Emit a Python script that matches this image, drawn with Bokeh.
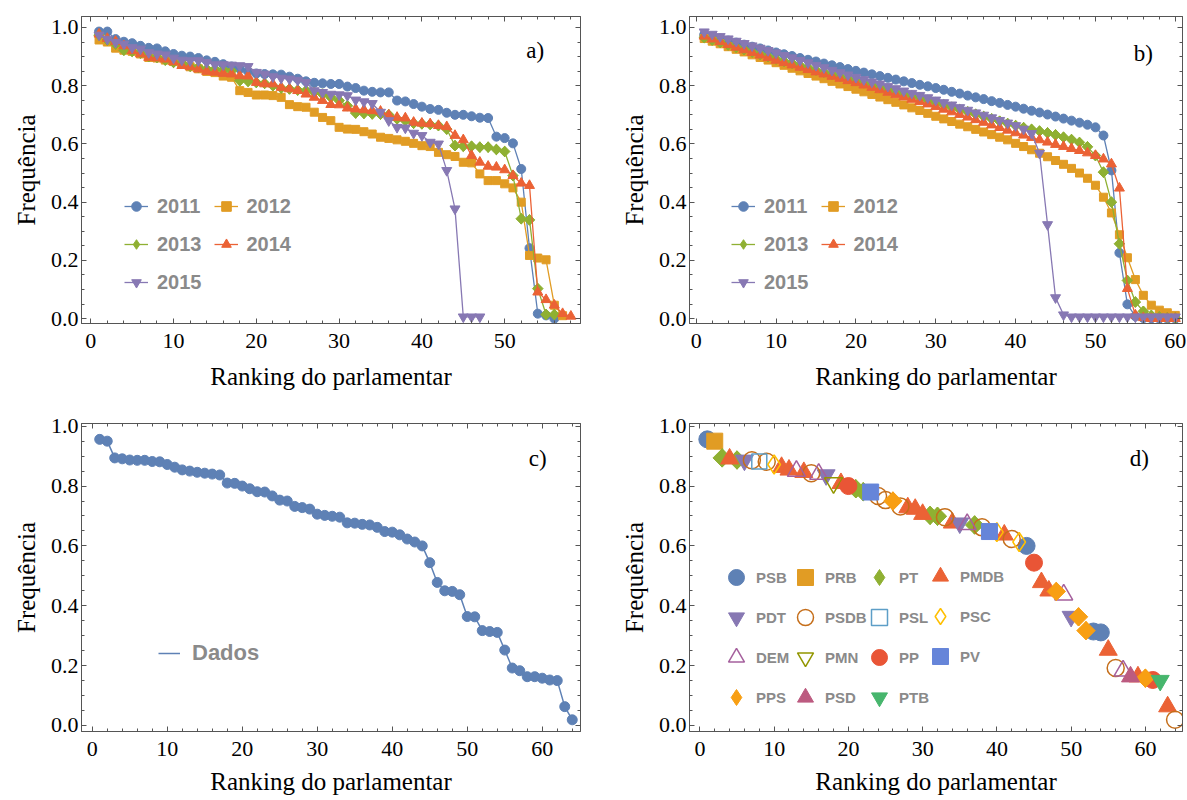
import math
from bokeh.plotting import figure
from bokeh.models import (Range1d, LinearAxis, SingleIntervalTicker, NumeralTickFormatter,
                          CustomJSTickFormatter, Legend, LegendItem, Label)
from bokeh.layouts import column, row
from bokeh.embed import file_html
from bokeh.resources import INLINE

# ---------------- data ----------------
YEARS = ["2011", "2012", "2013", "2014", "2015"]

# panel a) - yearly frequencies by ranking
a_2011 = [0.986, 0.986, 0.960, 0.951, 0.946, 0.937, 0.930, 0.928, 0.918, 0.909,
          0.903, 0.900, 0.895, 0.887, 0.882, 0.874, 0.866, 0.858, 0.849, 0.842,
          0.840, 0.839, 0.838, 0.831, 0.824, 0.815, 0.810, 0.808, 0.806, 0.806,
          0.797, 0.792, 0.783, 0.779, 0.777, 0.777, 0.749, 0.746, 0.737, 0.728,
          0.720, 0.717, 0.707, 0.700, 0.700, 0.695, 0.690, 0.689, 0.625, 0.620,
          0.602, 0.514, 0.242, 0.017, 0.011, 0.000]
a_2012 = [0.957, 0.950, 0.929, 0.922, 0.918, 0.909, 0.897, 0.895, 0.888, 0.883,
          0.874, 0.865, 0.858, 0.849, 0.845, 0.833, 0.829, 0.783, 0.777, 0.768,
          0.768, 0.766, 0.760, 0.735, 0.728, 0.726, 0.709, 0.691, 0.680, 0.657,
          0.651, 0.650, 0.642, 0.634, 0.623, 0.619, 0.614, 0.609, 0.602, 0.594,
          0.591, 0.571, 0.563, 0.557, 0.537, 0.535, 0.497, 0.474, 0.474, 0.463,
          0.449, 0.400, 0.217, 0.208, 0.202, 0.046, 0.010]
a_2013 = [0.974, 0.957, 0.943, 0.922, 0.918, 0.912, 0.900, 0.897, 0.888, 0.880,
          0.877, 0.867, 0.863, 0.857, 0.857, 0.855, 0.851, 0.817, 0.815, 0.811,
          0.808, 0.800, 0.792, 0.789, 0.785, 0.783, 0.777, 0.771, 0.760, 0.749,
          0.731, 0.706, 0.705, 0.703, 0.702, 0.700, 0.686, 0.680, 0.671, 0.669,
          0.667, 0.663, 0.651, 0.594, 0.592, 0.592, 0.589, 0.589, 0.581, 0.574,
          0.491, 0.343, 0.339, 0.103, 0.014, 0.014]
a_2014 = [0.977, 0.962, 0.952, 0.937, 0.920, 0.909, 0.897, 0.895, 0.891, 0.882,
          0.869, 0.865, 0.857, 0.849, 0.846, 0.842, 0.840, 0.834, 0.833, 0.811,
          0.806, 0.806, 0.794, 0.789, 0.783, 0.771, 0.760, 0.749, 0.735, 0.734,
          0.723, 0.720, 0.717, 0.714, 0.712, 0.699, 0.691, 0.689, 0.674, 0.671,
          0.669, 0.663, 0.659, 0.629, 0.614, 0.560, 0.537, 0.523, 0.520, 0.511,
          0.491, 0.465, 0.457, 0.091, 0.065, 0.046, 0.017, 0.008]
a_2015 = [0.974, 0.960, 0.949, 0.943, 0.931, 0.926, 0.914, 0.909, 0.906, 0.895,
          0.888, 0.886, 0.886, 0.880, 0.872, 0.872, 0.871, 0.869, 0.866, 0.846,
          0.840, 0.831, 0.826, 0.823, 0.819, 0.811, 0.783, 0.777, 0.771, 0.769,
          0.766, 0.751, 0.745, 0.739, 0.709, 0.680, 0.657, 0.655, 0.637, 0.629,
          0.606, 0.600, 0.509, 0.377, 0.006, 0.006, 0.006]

# panel b) - smoothed yearly frequencies
b_2011 = [0.975, 0.968, 0.962, 0.955, 0.948, 0.941, 0.934, 0.928, 0.921, 0.914,
          0.908, 0.902, 0.895, 0.889, 0.883, 0.876, 0.870, 0.864, 0.857, 0.851,
          0.845, 0.839, 0.833, 0.827, 0.821, 0.815, 0.809, 0.803, 0.798, 0.792,
          0.786, 0.779, 0.773, 0.766, 0.760, 0.754, 0.747, 0.741, 0.734, 0.728,
          0.721, 0.714, 0.708, 0.701, 0.694, 0.687, 0.680, 0.673, 0.666, 0.657,
          0.629, 0.509, 0.226, 0.049, 0.008, 0.002, 0.001, 0.000, 0.000, 0.000]
b_2012 = [0.962, 0.953, 0.944, 0.934, 0.925, 0.916, 0.906, 0.897, 0.888, 0.879,
          0.870, 0.860, 0.851, 0.842, 0.833, 0.824, 0.815, 0.806, 0.797, 0.788,
          0.779, 0.770, 0.761, 0.752, 0.743, 0.734, 0.724, 0.715, 0.705, 0.695,
          0.686, 0.677, 0.668, 0.659, 0.650, 0.641, 0.632, 0.623, 0.614, 0.602,
          0.591, 0.580, 0.568, 0.556, 0.543, 0.530, 0.516, 0.500, 0.482, 0.458,
          0.417, 0.363, 0.288, 0.209, 0.134, 0.080, 0.046, 0.029, 0.020, 0.011]
b_2013 = [0.965, 0.957, 0.949, 0.940, 0.932, 0.924, 0.916, 0.908, 0.900, 0.892,
          0.884, 0.877, 0.869, 0.862, 0.854, 0.847, 0.839, 0.832, 0.825, 0.818,
          0.810, 0.803, 0.795, 0.788, 0.780, 0.773, 0.765, 0.758, 0.750, 0.742,
          0.734, 0.726, 0.718, 0.710, 0.702, 0.694, 0.686, 0.678, 0.670, 0.663,
          0.656, 0.650, 0.644, 0.638, 0.631, 0.623, 0.615, 0.605, 0.590, 0.560,
          0.503, 0.400, 0.257, 0.131, 0.057, 0.025, 0.011, 0.006, 0.003, 0.002]
b_2014 = [0.970, 0.960, 0.951, 0.941, 0.932, 0.923, 0.914, 0.905, 0.896, 0.887,
          0.879, 0.871, 0.863, 0.855, 0.847, 0.840, 0.832, 0.825, 0.817, 0.810,
          0.802, 0.794, 0.786, 0.777, 0.769, 0.761, 0.753, 0.745, 0.737, 0.728,
          0.719, 0.710, 0.701, 0.692, 0.683, 0.674, 0.665, 0.656, 0.647, 0.638,
          0.630, 0.622, 0.614, 0.606, 0.598, 0.591, 0.584, 0.577, 0.569, 0.560,
          0.548, 0.531, 0.448, 0.103, 0.012, 0.003, 0.000, 0.000, 0.000, 0.000]
b_2015 = [0.985, 0.977, 0.969, 0.961, 0.953, 0.945, 0.937, 0.929, 0.921, 0.913,
          0.904, 0.896, 0.887, 0.879, 0.870, 0.862, 0.853, 0.845, 0.837, 0.829,
          0.821, 0.813, 0.806, 0.798, 0.790, 0.782, 0.774, 0.767, 0.759, 0.751,
          0.742, 0.734, 0.725, 0.716, 0.707, 0.699, 0.690, 0.681, 0.672, 0.663,
          0.651, 0.636, 0.568, 0.323, 0.072, 0.013, 0.006, 0.006, 0.006, 0.006,
          0.006, 0.006, 0.006, 0.006, 0.006, 0.006, 0.006, 0.006, 0.006, 0.006]

# panel c) - all years ("Dados")
c_freq = [0.956, 0.950, 0.894, 0.891, 0.887, 0.886, 0.886, 0.882, 0.881, 0.872,
          0.863, 0.854, 0.850, 0.846, 0.843, 0.840, 0.837, 0.810, 0.809, 0.800,
          0.791, 0.781, 0.780, 0.767, 0.753, 0.750, 0.732, 0.728, 0.723, 0.706,
          0.702, 0.699, 0.696, 0.677, 0.676, 0.672, 0.670, 0.662, 0.648, 0.646,
          0.637, 0.623, 0.613, 0.600, 0.544, 0.478, 0.450, 0.448, 0.437, 0.364,
          0.363, 0.317, 0.314, 0.311, 0.252, 0.192, 0.183, 0.163, 0.163, 0.158,
          0.152, 0.150, 0.063, 0.019]

# panel d) - party of each ranked deputy (same frequencies as c)
PARTIES = ["PSB", "PRB", "PT", "PMDB", "PDT", "PSDB", "PSL", "PSC",
           "DEM", "PMN", "PP", "PV", "PPS", "PSD", "PTB"]
d_party = ["PSB", "PRB", "PT", "PMDB", "PT", "PDT", "PSDB", "PSL", "PSDB", "PSC",
           "PMDB", "PMDB", "DEM", "PMDB", "PSDB", "DEM", "PDT", "PMN", "PMDB", "PP",
           "PT", "PT", "PV", "PSDB", "PSDB", "PPS", "PSDB", "PMDB", "PMDB", "PMDB",
           "PT", "PT", "PSDB", "PMDB", "PDT", "DEM", "PT", "PSDB", "PV", "PSC",
           "PMDB", "PSDB", "PSC", "PSB", "PP", "PMDB", "PMDB", "PPS", "DEM", "PDT",
           "PPS", "PPS", "PSB", "PSB", "PMDB", "PSDB", "DEM", "PSD", "PMDB", "PPS",
           "PP", "PTB", "PMDB", "PSDB"]

# ---------------- styles ----------------
SERIF = "Liberation Serif"
LEG_FONT = "Liberation Sans"
LEG_COLOR = "#8a8a8a"
FRAME = "#555555"
Q = math.pi / 4

YEAR_STYLE = {
    "2011": dict(color="#5E81B5", marker="circle", size=9),
    "2012": dict(color="#E19C24", marker="square", size=8),
    "2013": dict(color="#8FB032", marker="diamond", size=7.5),
    "2014": dict(color="#EB6235", marker="triangle", size=10),
    "2015": dict(color="#8778B3", marker="inverted_triangle", size=10),
}

PARTY_STYLE = {
    "PSB": dict(color="#5E81B5", marker="circle", size=17, filled=True),
    "PRB": dict(color="#E19C24", marker="square", size=16, filled=True),
    "PT": dict(color="#8FB032", marker="diamond", size=13, filled=True),
    "PMDB": dict(color="#EB6235", marker="triangle", size=18, filled=True),
    "PDT": dict(color="#8778B3", marker="inverted_triangle", size=18, filled=True),
    "PSDB": dict(color="#C56E1A", marker="circle", size=17, filled=False),
    "PSL": dict(color="#5D9EC7", marker="square", size=15, filled=False),
    "PSC": dict(color="#FFBF00", marker="hollow_diamond", size=19, filled=False),
    "DEM": dict(color="#A5609D", marker="triangle", size=18, filled=False),
    "PMN": dict(color="#929600", marker="inverted_triangle", size=18, filled=False),
    "PP": dict(color="#E95536", marker="circle", size=17, filled=True),
    "PV": dict(color="#6685D9", marker="square", size=16, filled=True),
    "PPS": dict(color="#F89F13", marker="diamond", size=13, filled=True),
    "PSD": dict(color="#BC5B80", marker="triangle", size=18, filled=True),
    "PTB": dict(color="#47B66D", marker="inverted_triangle", size=18, filled=True),
}

TOP_Y = (-0.0168, 1.0377)
BOT_Y = (-0.0201, 1.0090)


def base_fig(xr, yr, bl, fw, br, bt, fh, bb, label_standoff):
    p = figure(x_range=Range1d(*xr), y_range=Range1d(*yr),
               frame_width=fw, frame_height=fh,
               min_border_left=bl, min_border_right=br,
               min_border_top=bt, min_border_bottom=bb,
               output_backend="svg", toolbar_location=None)
    p.grid.visible = False
    p.outline_line_color = FRAME
    p.background_fill_color = "white"
    p.border_fill_color = "white"
    xt = SingleIntervalTicker(interval=10, num_minor_ticks=5)
    yt = SingleIntervalTicker(interval=0.2, num_minor_ticks=4)
    xb = p.below[0]
    yl = p.left[0]
    xb.ticker = xt
    yl.ticker = yt
    yl.formatter = NumeralTickFormatter(format="0.0")
    blank = CustomJSTickFormatter(code="return ''")
    xa = LinearAxis(ticker=xt, formatter=blank)
    yr_ax = LinearAxis(ticker=yt, formatter=blank)
    p.add_layout(xa, "above")
    p.add_layout(yr_ax, "right")
    for ax in (xb, yl, xa, yr_ax):
        ax.axis_line_color = FRAME
        ax.major_tick_line_color = FRAME
        ax.minor_tick_line_color = FRAME
        ax.major_tick_in = 5
        ax.major_tick_out = 0
        ax.minor_tick_in = 3
        ax.minor_tick_out = 0
        ax.major_label_text_font = SERIF
        ax.major_label_text_font_size = "22px"
        ax.major_label_text_color = "black"
    xa.major_label_standoff = 0
    yr_ax.major_label_standoff = 0
    xb.major_label_standoff = 10
    yl.major_label_standoff = 3
    yl.axis_label = "Frequência"
    yl.axis_label_standoff = 8
    xb.axis_label = "Ranking do parlamentar"
    xb.axis_label_standoff = label_standoff
    for ax in (xb, yl):
        ax.axis_label_text_font = SERIF
        ax.axis_label_text_font_size = "25px"
        ax.axis_label_text_font_style = "normal"
        ax.axis_label_text_color = "black"
    return p


def panel_label(p, x, y, text):
    p.add_layout(Label(x=x, y=y, text=text, text_font=SERIF, text_font_size="23px",
                       text_color="black", text_align="left", text_baseline="alphabetic"))


def year_panel(p, series, loc):
    items = []
    for name, vals in zip(YEARS, series):
        st = YEAR_STYLE[name]
        xs = list(range(1, len(vals) + 1))
        lr = p.line(xs, vals, line_color=st["color"], line_width=1.3)
        if st["marker"] == "diamond":
            # diamond (for the legend) hidden under a rotated square (drawn shape)
            sr = p.scatter(xs, vals, marker="diamond", size=st["size"] * 1.41,
                           fill_color=st["color"], line_color=st["color"])
            p.scatter(xs, vals, marker="square", size=st["size"], angle=Q,
                      fill_color=st["color"], line_color=st["color"])
        else:
            sr = p.scatter(xs, vals, marker=st["marker"], size=st["size"],
                           fill_color=st["color"], line_color=st["color"])
        items.append(LegendItem(label=name, renderers=[lr, sr]))
    leg = Legend(items=items, location=loc, orientation="horizontal", ncols=2,
                 glyph_width=24, glyph_height=26, label_height=26, label_standoff=9,
                 spacing=12, padding=0, margin=0, border_line_color=None,
                 background_fill_alpha=0, label_text_font=LEG_FONT,
                 label_text_font_style="bold", label_text_color=LEG_COLOR,
                 label_text_font_size="20px")
    p.add_layout(leg)


# ---------------- panel a ----------------
pa = base_fig((-1.12, 59.16), TOP_Y, 81, 499, 10, 16, 307, 90, 12)
year_panel(pa, [a_2011, a_2012, a_2013, a_2014, a_2015], (43, 28))
panel_label(pa, 52.6, 0.920, "a)")

# ---------------- panel b ----------------
pb = base_fig((-0.84, 60.9), TOP_Y, 99, 493, 5, 16, 307, 90, 12)
year_panel(pb, [b_2011, b_2012, b_2013, b_2014, b_2015], (42, 28))
panel_label(pb, 54.8, 0.909, "b)")

# ---------------- panel c ----------------
pc = base_fig((-1.43, 65.1), BOT_Y, 81, 499, 10, 10, 308, 69, 9)
c_x = list(range(1, len(c_freq) + 1))
cl = pc.line(c_x, c_freq, line_color="#5E81B5", line_width=1.5)
pc.scatter(c_x, c_freq, marker="circle", size=10, fill_color="#5E81B5", line_color="#5E81B5")
leg_c = Legend(items=[LegendItem(label="Dados", renderers=[cl])], location=(77, 63),
               glyph_width=22, glyph_height=30, label_height=30, label_standoff=12,
               padding=0, margin=0, border_line_color=None, background_fill_alpha=0,
               label_text_font=LEG_FONT, label_text_font_style="bold",
               label_text_color=LEG_COLOR, label_text_font_size="22px")
pc.add_layout(leg_c)
panel_label(pc, 58.2, 0.893, "c)")

# ---------------- panel d ----------------
pd_ = base_fig((-1.4, 65.0), BOT_Y, 99, 493, 5, 10, 308, 69, 9)
party_renderer = {}
for party in PARTIES:
    st = PARTY_STYLE[party]
    xs = [i + 1 for i, pp in enumerate(d_party) if pp == party]
    ys = [c_freq[i] for i, pp in enumerate(d_party) if pp == party]
    if st["marker"] == "diamond":
        r = pd_.scatter(xs, ys, marker="diamond", size=st["size"] * 1.41,
                        fill_color=st["color"], line_color=st["color"])
        pd_.scatter(xs, ys, marker="square", size=st["size"], angle=Q,
                    fill_color=st["color"], line_color=st["color"])
    elif st["filled"]:
        r = pd_.scatter(xs, ys, marker=st["marker"], size=st["size"],
                        fill_color=st["color"], line_color=st["color"])
    else:
        mk = "diamond" if st["marker"] == "hollow_diamond" else st["marker"]
        r = pd_.scatter(xs, ys, marker=mk, size=st["size"],
                        fill_color=None, line_color=st["color"], line_width=1.5)
    party_renderer[party] = r

# legend laid out as four columns (row-major order of the parties)
col_locs = [(27, 14), (96, 14), (170, 14), (231, 55)]
for ci, loc in enumerate(col_locs):
    names = PARTIES[ci::4]
    leg = Legend(items=[LegendItem(label=n, renderers=[party_renderer[n]]) for n in names],
                 location=loc, orientation="vertical",
                 glyph_width=40, glyph_height=40, label_height=20, label_standoff=0,
                 spacing=0, padding=0, margin=0, border_line_color=None,
                 background_fill_alpha=0, label_text_font=LEG_FONT,
                 label_text_font_style="bold", label_text_color=LEG_COLOR,
                 label_text_font_size="15px")
    pd_.add_layout(leg)
panel_label(pd_, 57.9, 0.893, "d)")

layout = column(row(pa, pb), row(pc, pd_))
open("out.html", "w", encoding="utf-8").write(file_html(layout, INLINE))
